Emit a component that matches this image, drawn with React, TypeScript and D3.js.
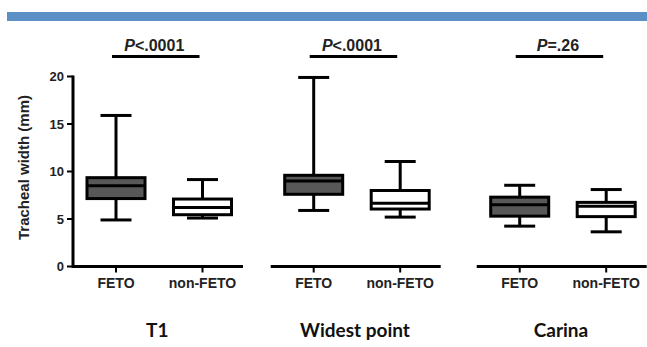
import React from "react";
import * as d3 from "d3";

// values: [min, q1, median, q3, max] in mm
const sites = ["T1", "Widest point", "Carina"];
const groups = ["FETO", "non-FETO"];
const pValues = ["<.0001", "<.0001", "=.26"];
const fetoStats = [
  [4.9, 7.15, 8.5, 9.35, 15.9],
  [5.9, 7.6, 9.0, 9.6, 19.9],
  [4.25, 5.3, 6.5, 7.3, 8.55],
];
const nonFetoStats = [
  [5.1, 5.45, 6.2, 7.1, 9.15],
  [5.2, 6.05, 6.65, 8.0, 11.05],
  [3.65, 5.25, 6.35, 6.75, 8.1],
];
const yTicks = [0, 5, 10, 15, 20];

const W = 647;
const H = 347;
const panelStarts = [73, 270.7, 476.7];
const panelWidth = 170;
const boxW = 58;
const capW = 31;
const fills = ["#585858", "#ffffff"];

const App = () => {
  const y = d3.scaleLinear().domain([0, 20]).range([266.5, 76.5]);
  const stroke = 3;
  const fontArial = "'Liberation Sans', Arial, sans-serif";

  return (
    <svg
      width={W}
      height={H}
      style={{ position: "absolute", left: 0, top: 0, background: "#fff" }}
    >
      <rect x={7} y={12} width={W - 7} height={9} fill="#5b8fc5" />

      {/* y axis */}
      <g fontFamily={fontArial} fontWeight="bold" fill="#222">
        {yTicks.map((t) => (
          <g key={t}>
            <line x1={67} x2={73} y1={y(t)} y2={y(t)} stroke="#000" strokeWidth={2} />
            <text x={64} y={y(t)} dy="0.36em" textAnchor="end" fontSize={13}>
              {t}
            </text>
          </g>
        ))}
        <line x1={73} x2={73} y1={y(20) - 1} y2={y(0) + 1.5} stroke="#000" strokeWidth={stroke} />
        <text
          transform={`translate(29,${(y(0) + y(20)) / 2 - 4}) rotate(-90)`}
          textAnchor="middle"
          fontSize={15}
        >
          Tracheal width (mm)
        </text>
      </g>

      {sites.map((site, i) => {
        const x0 = panelStarts[i];
        const x = d3
          .scalePoint<string>()
          .domain(groups)
          .range([x0 + 43, x0 + 129.5]);
        const stats = [fetoStats[i], nonFetoStats[i]];
        const mid = ((x("FETO") as number) + (x("non-FETO") as number)) / 2;
        return (
          <g key={site}>
            {/* x axis */}
            <line
              x1={x0}
              x2={Math.min(x0 + panelWidth, W)}
              y1={y(0)}
              y2={y(0)}
              stroke="#000"
              strokeWidth={stroke}
            />
            {groups.map((g) => (
              <g key={g}>
                <line
                  x1={x(g)}
                  x2={x(g)}
                  y1={y(0)}
                  y2={y(0) + 6}
                  stroke="#000"
                  strokeWidth={2}
                />
                <text
                  x={x(g)}
                  y={288}
                  textAnchor="middle"
                  fontFamily={fontArial}
                  fontWeight="bold"
                  fontSize={14}
                  fill="#222"
                >
                  {g}
                </text>
              </g>
            ))}

            {/* boxes */}
            {groups.map((g, j) => {
              const [mn, q1, md, q3, mx] = stats[j];
              const cx = x(g) as number;
              return (
                <g key={g} stroke="#000" strokeWidth={stroke}>
                  <line x1={cx} x2={cx} y1={y(mx)} y2={y(q3)} />
                  <line x1={cx} x2={cx} y1={y(q1)} y2={y(mn)} />
                  <line x1={cx - capW / 2} x2={cx + capW / 2} y1={y(mx)} y2={y(mx)} />
                  <line x1={cx - capW / 2} x2={cx + capW / 2} y1={y(mn)} y2={y(mn)} />
                  <rect
                    x={cx - boxW / 2}
                    y={y(q3)}
                    width={boxW}
                    height={y(q1) - y(q3)}
                    fill={fills[j]}
                  />
                  <line x1={cx - boxW / 2} x2={cx + boxW / 2} y1={y(md)} y2={y(md)} />
                </g>
              );
            })}

            {/* p value */}
            <text
              x={mid - 5}
              y={51}
              textAnchor="middle"
              fontFamily={fontArial}
              fontWeight="bold"
              fontSize={16}
              fill="#222"
            >
              <tspan fontStyle="italic">P</tspan>
              {pValues[i]}
            </text>
            <line
              x1={(x("FETO") as number) - 4}
              x2={(x("non-FETO") as number) - 3}
              y1={56.5}
              y2={56.5}
              stroke="#000"
              strokeWidth={3}
            />

            {/* site title */}
            <text
              x={mid - 2}
              y={337}
              textAnchor="middle"
              fontFamily="Lato, 'Open Sans', sans-serif"
              fontWeight="bold"
              fontSize={19}
              fill="#111"
            >
              {site}
            </text>
          </g>
        );
      })}
    </svg>
  );
};

export default App;
